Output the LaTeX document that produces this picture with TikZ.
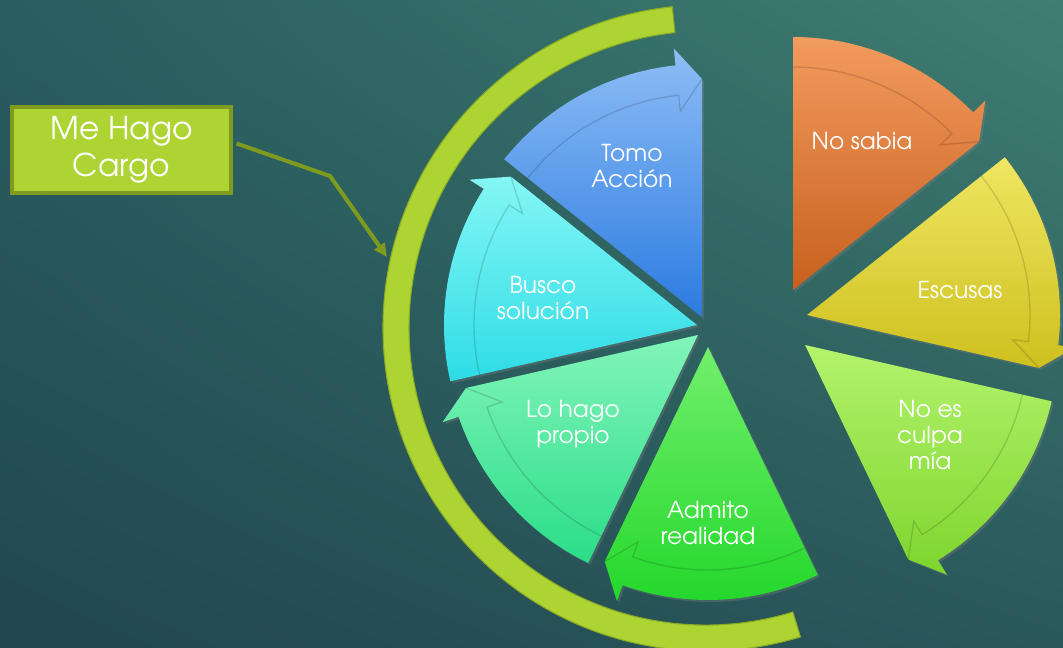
\documentclass[tikz,border=0pt]{standalone}
\usepackage{fontspec}
\setmainfont{TeX Gyre Adventor}
\usetikzlibrary{arrows.meta,shadows,shadings}

\definecolor{bgTL}{HTML}{295D60}
\definecolor{bgTR}{HTML}{3F7E71}
\definecolor{bgBL}{HTML}{21474F}
\definecolor{bgBR}{HTML}{2A585B}
\definecolor{cargoFill}{HTML}{ADD433}
\definecolor{cargoLine}{HTML}{7E9B1F}
\definecolor{bracketLine}{HTML}{8AAB24}
\definecolor{orangeT}{HTML}{F29B5F}
\definecolor{orangeB}{HTML}{C8601D}
\definecolor{yellowT}{HTML}{EFE662}
\definecolor{yellowB}{HTML}{CEC01E}
\definecolor{limeT}{HTML}{B3F36D}
\definecolor{limeB}{HTML}{7ED52D}
\definecolor{greenT}{HTML}{72EF6C}
\definecolor{greenB}{HTML}{22D72A}
\definecolor{mintT}{HTML}{82F5B9}
\definecolor{mintB}{HTML}{2ADD88}
\definecolor{cyanT}{HTML}{84F6F5}
\definecolor{cyanB}{HTML}{2EDCE6}
\definecolor{blueT}{HTML}{8DBDF6}
\definecolor{blueB}{HTML}{2C7BE0}

\tikzset{
  seg/.style={drop shadow={opacity=.35,shadow xshift=1.5pt,shadow yshift=-1.5pt}},
  bandline/.style={draw=black,opacity=.14,line width=1pt},
  lbl/.style={text=white,font=\fontsize{17.5}{19.5}\selectfont,align=center},
  cargo/.style={draw=cargoLine,line width=3pt,fill=cargoFill,text=white,
    minimum width=164pt,minimum height=64.5pt,align=center,
    font=\fontsize{23.5}{27.75}\selectfont},
  link/.style={draw=cargoLine,line width=3pt,line join=round,shorten <=3pt,
    -{Triangle[length=10pt,width=9pt]}},
}

% apex, start angle, colour
\newcommand{\segarrow}[3]{%
  \shade[seg,top color=#3T,bottom color=#3B,shift={(#1)}]
    (0,0) -- (#2:253) arc[start angle=#2,end angle=#2-45.43,radius=253]
    -- (#2-45.43:270) -- (#2-51.43:238) -- cycle;
  \draw[bandline,shift={(#1)}]
    (#2:223) arc[start angle=#2,end angle=#2-45.43,radius=223]
    -- (#2-45.43:207) -- (#2-51.43:238);
}

\begin{document}
\begin{tikzpicture}[x=0.75pt,y=0.75pt]
    \useasboundingbox (0,0) rectangle (1063,647);
    \shade[upper left=bgTL,upper right=bgTR,lower left=bgBL,lower right=bgBR]
      (0,0) rectangle (1063,647);

    \filldraw[fill=cargoFill,draw=bracketLine,line width=.8pt,shift={(706,319)}]
      (96:323) arc[start angle=96,end angle=287,radius=323]
      -- (287:297) arc[start angle=287,end angle=96,radius=297] -- cycle;

    \segarrow{793,357}{90}{orange}
    \segarrow{807,332}{38.57}{yellow}
    \segarrow{805,302}{-12.86}{lime}
    \segarrow{708,300}{-64.29}{green}
    \segarrow{698,312}{-115.71}{mint}
    \segarrow{697,322}{192.86}{cyan}
    \segarrow{702,330}{141.43}{blue}

    \node[lbl] (nosabia)  at (862,506) {No sabia};
    \node[lbl] (escusas)  at (960,357) {Escusas};
    \node[lbl] (noculpa)  at (930,212) {No es\\culpa\\mía};
    \node[lbl] (admito)   at (708,124) {Admito\\realidad};
    \node[lbl] (propio)   at (573,223) {Lo hago\\propio};
    \node[lbl] (busco)    at (543,349) {Busco\\solución};
    \node[lbl] (tomo)     at (632,481) {Tomo\\Acción};

    \node[cargo] (cargo) at (121.5,497) {Me Hago\\Cargo};
    \coordinate (knee)    at (330,471);
    \coordinate (bracket) at (387,390);

    \draw[link] (cargo.4) -- (knee) -- (bracket);
\end{tikzpicture}
\end{document}
